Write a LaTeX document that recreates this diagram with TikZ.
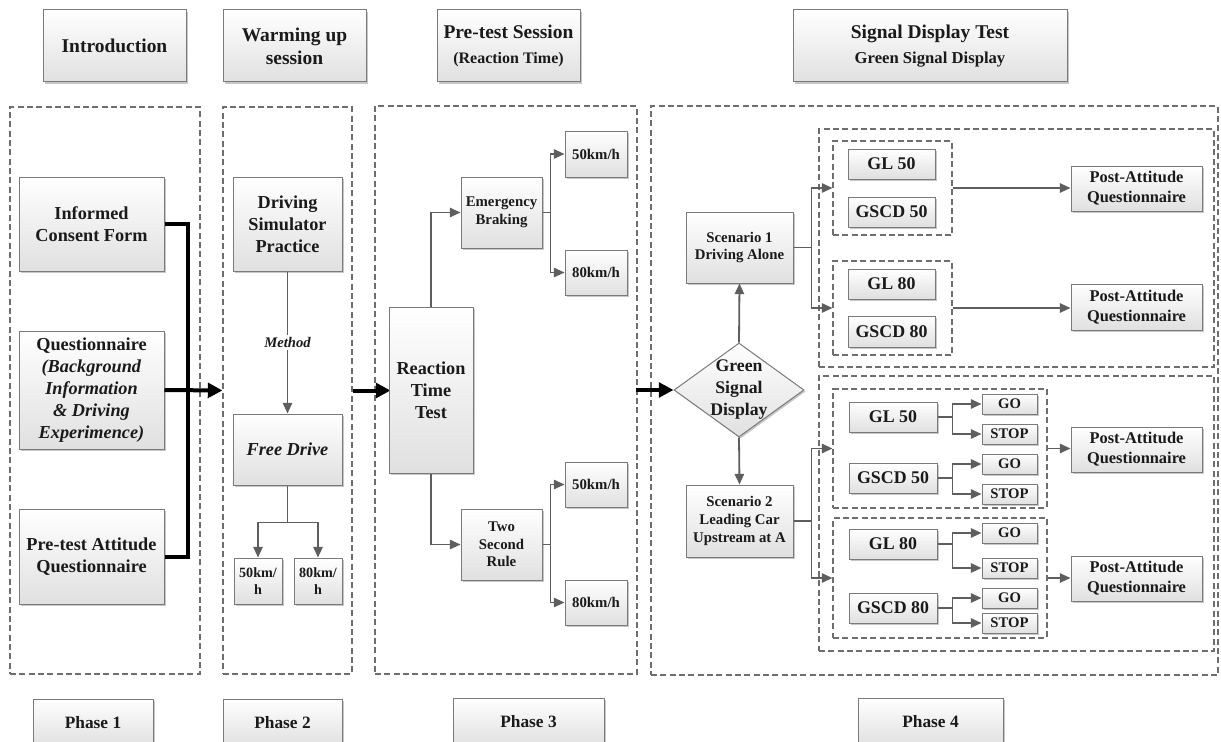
\documentclass[tikz,border=0pt]{standalone}
\usepackage{fontspec}
\setmainfont{Liberation Serif}
\usetikzlibrary{arrows.meta,shapes.geometric,shadows}

\definecolor{boxline}{HTML}{7A7A7A}
\definecolor{boxfill}{HTML}{E0E0E0}
\definecolor{connc}{HTML}{5E5E5E}
\definecolor{dashc}{HTML}{6E6E6E}
\definecolor{inkc}{HTML}{1A1A1A}

% font sizes
\newcommand\fHead{\fontsize{14.6}{17.2}\selectfont}
\newcommand\fMain{\fontsize{13.7}{16.4}\selectfont}
\newcommand\fSmall{\fontsize{11.1}{13.2}\selectfont}
\newcommand\fTiny{\fontsize{10.6}{12.6}\selectfont}

% box from pixel corners: style, name, x1, y1, x2, y2, text
\newcommand\bx[7]{%
  \pgfmathsetmacro\bxw{(#5-#3)*0.75}%
  \pgfmathsetmacro\bxh{(#6-#4)*0.75}%
  \node[#1, minimum width=\bxw pt, minimum height=\bxh pt] (#2) at ({(#3+#5)/2},{(#4+#6)/2}) {#7};}

\tikzset{
  boxbase/.style={draw=boxline, line width=0.75pt, top color=white, bottom color=boxfill,
    drop shadow={shadow xshift=1.2pt, shadow yshift=-1.2pt, opacity=0.22, fill=black},
    inner sep=0pt, align=center, text=inkc},
  hdr/.style={boxbase, font=\bfseries\fHead},
  phaselbl/.style={boxbase, font=\bfseries\fontsize{13}{15}\selectfont},
  big/.style={boxbase, font=\bfseries\fMain},
  bigi/.style={boxbase, font=\bfseries\itshape\fMain},
  small/.style={boxbase, font=\bfseries\fSmall},
  kmh/.style={boxbase, font=\bfseries\fTiny},
  mid/.style={boxbase, font=\bfseries\fontsize{13.4}{16}\selectfont},
  post/.style={boxbase, font=\bfseries\fontsize{12.3}{15}\selectfont},
  gostop/.style={boxbase, font=\bfseries\fontsize{11}{13}\selectfont},
  diam/.style={boxbase, diamond, aspect=1.38},
  group/.style={draw=dashc, line width=0.8pt, dash pattern=on 4.5pt off 2.5pt, inner sep=0pt},
  conn/.style={draw=connc, line width=1.35pt, -{Triangle[length=8pt,width=7pt]}},
  connl/.style={draw=connc, line width=1.35pt},
  bigarrow/.style={draw=black, line width=3pt, -{Triangle[length=11pt,width=11pt]}},
  bracket/.style={draw=black, line width=3pt},
}

\begin{document}
\begin{tikzpicture}[x=0.75pt, y=-0.75pt]
\clip (0,0) rectangle (1221,742);
\fill[white] (0,0) rectangle (1221,742);

% ---- phase frames ----
\bx{group}{ph1}{10}{107}{200}{674}{}
\bx{group}{ph2}{223}{107}{352}{674}{}
\bx{group}{ph3}{375}{106}{637}{674}{}
\bx{group}{ph4}{651}{106}{1218}{675}{}

% ---- headers ----
\bx{hdr}{hIntro}{43}{10}{186}{82}{Introduction}
\bx{hdr}{hWarm}{223}{10}{366}{82}{Warming up\\session}
\bx{hdr}{hPre}{437}{10}{580}{82}{Pre-test Session\\[1pt]{\fontsize{12}{14}\selectfont(Reaction Time)}}
\bx{hdr}{hSig}{793}{10}{1067}{82}{Signal Display Test\\[1pt]{\fontsize{12.5}{14.5}\selectfont Green Signal Display}}

% ---- phase labels ----
\bx{phaselbl}{pl1}{33}{699}{153}{746}{Phase 1}
\bx{phaselbl}{pl2}{223}{699}{342}{746}{Phase 2}
\bx{phaselbl}{pl3}{453}{698}{604}{746}{Phase 3}
\bx{phaselbl}{pl4}{858}{698}{1003}{746}{Phase 4}

% ---- phase 1: introduction ----
\bx{big}{icf}{19}{177}{164}{271}{Informed\\Consent Form}
\bx{big}{quest}{19}{331}{164}{449}{Questionnaire\\\textit{(Background}\\\textit{Information}\\\textit{\& Driving}\\\textit{Experimence)}}
\bx{big}{pta}{19}{509}{164}{604}{Pre-test Attitude\\Questionnaire}
\draw[bracket] (icf.east) -- ++(23,0) |- (pta.east);
\draw[bigarrow] (quest.east) -- (ph2.west);

% ---- phase 2: warming up ----
\bx{big}{dsp}{233}{177}{342}{271}{Driving\\Simulator\\Practice}
\bx{bigi}{fd}{233}{414}{342}{485}{Free Drive}
\bx{kmh}{wk50}{234}{558}{282}{604}{50km/\\h}
\bx{kmh}{wk80}{294}{558}{342}{604}{80km/\\h}
\draw[conn] (dsp.south) -- node[fill=white, inner sep=1.5pt, font=\bfseries\itshape\fontsize{11}{13}\selectfont, text=inkc] (mth) {Method} (fd.north);
\draw[connl] (fd.south) -- ++(0,37) coordinate (fdsplit);
\draw[conn] (fdsplit) -| (wk50.north);
\draw[conn] (fdsplit) -| (wk80.north);
\draw[bigarrow] (ph2.east) -- ++(38,0);

% ---- phase 3: reaction time ----
\bx{big}{rtt}{389}{307}{473}{473}{Reaction\\Time\\Test}
\bx{small}{eb}{461}{177}{542}{248}{Emergency\\Braking}
\bx{small}{e50}{565}{131}{627}{177}{50km/h}
\bx{small}{e80}{565}{250}{627}{295}{80km/h}
\bx{small}{tsr}{461}{509}{542}{580}{Two\\Second\\Rule}
\bx{small}{t50}{565}{462}{627}{507}{50km/h}
\bx{small}{t80}{565}{580}{627}{625}{80km/h}
\draw[conn] (rtt.north) |- (eb.west);
\draw[conn] (rtt.south) |- (tsr.west);
\draw[conn] (eb.east) -- ++(8,0) |- (e50.west);
\draw[conn] (eb.east) -- ++(8,0) |- (e80.west);
\draw[conn] (tsr.east) -- ++(8,0) |- (t50.west);
\draw[conn] (tsr.east) -- ++(8,0) |- (t80.west);

% ---- phase 4: signal display test ----
\bx{group}{grpA}{819}{129}{1214}{367}{}
\bx{group}{grpB}{819}{376}{1214}{651}{}
\bx{group}{gA1}{833}{141}{952}{235}{}
\bx{group}{gA2}{833}{261}{952}{355}{}
\bx{group}{gB1}{833}{389}{1047}{508}{}
\bx{group}{gB2}{833}{518}{1047}{638}{}

\bx{diam}{gsd}{674}{343}{804}{437}{}
\node[font=\bfseries\fontsize{13.3}{16.5}\selectfont, align=center, text=inkc, inner sep=0pt] (gsdt) at (gsd.center) {Green\\Signal\\Display};
\bx{small}{sc1}{686}{212}{793}{283}{Scenario 1\\Driving Alone}
\bx{small}{sc2}{686}{485}{793}{557}{Scenario 2\\Leading Car\\Upstream at A}
\draw[bigarrow] (ph3.east) ++(-2,0) coordinate (p3out) -- (gsd.west);
\draw[conn] (gsd.north) -- (sc1.south);
\draw[conn] (gsd.south) -- (sc2.north);

% scenario 1 branch
\bx{mid}{ga50}{848}{149}{935}{179}{GL 50}
\bx{mid}{gsa50}{848}{197}{935}{227}{GSCD 50}
\bx{mid}{ga80}{848}{269}{935}{299}{GL 80}
\bx{mid}{gsa80}{848}{316}{935}{347}{GSCD 80}
\bx{post}{pa1}{1071}{166}{1202}{211}{Post-Attitude\\Questionnaire}
\bx{post}{pa2}{1071}{284}{1202}{330}{Post-Attitude\\Questionnaire}
\draw[conn] (sc1.east) -- ++(18,0) |- (gA1.west);
\draw[conn] (sc1.east) -- ++(18,0) |- (gA2.west);
\draw[conn] (gA1.east) -- (gA1.east -| pa1.west);
\draw[conn] (gA2.east) -- (gA2.east -| pa2.west);

% scenario 2 branch
\bx{mid}{gb50}{849}{402}{937}{432}{GL 50}
\bx{mid}{gsb50}{849}{463}{937}{493}{GSCD 50}
\bx{mid}{gb80}{849}{529}{937}{559}{GL 80}
\bx{mid}{gsb80}{849}{593}{937}{623}{GSCD 80}
\bx{gostop}{go1}{982}{394}{1037}{414}{GO}
\bx{gostop}{st1}{982}{424}{1037}{444}{STOP}
\bx{gostop}{go2}{982}{454}{1037}{474}{GO}
\bx{gostop}{st2}{982}{484}{1037}{504}{STOP}
\bx{gostop}{go3}{982}{523}{1037}{543}{GO}
\bx{gostop}{st3}{982}{558}{1037}{578}{STOP}
\bx{gostop}{go4}{982}{588}{1037}{608}{GO}
\bx{gostop}{st4}{982}{613}{1037}{633}{STOP}
\bx{post}{pa3}{1071}{427}{1202}{472}{Post-Attitude\\Questionnaire}
\bx{post}{pa4}{1071}{556}{1202}{601}{Post-Attitude\\Questionnaire}
\draw[conn] (sc2.east) -- ++(18,0) |- (gB1.west);
\draw[conn] (sc2.east) -- ++(18,0) |- (gB2.west);
\foreach \src/\ga/\gb in {gb50/go1/st1, gsb50/go2/st2, gb80/go3/st3, gsb80/go4/st4}{
  \draw[conn] (\src.east) -- ++(15,0) |- (\ga.west);
  \draw[conn] (\src.east) -- ++(15,0) |- (\gb.west);
}
\draw[conn] (gB1.east) -- (gB1.east -| pa3.west);
\draw[conn] (gB2.east) -- (gB2.east -| pa4.west);
\end{tikzpicture}
\end{document}
